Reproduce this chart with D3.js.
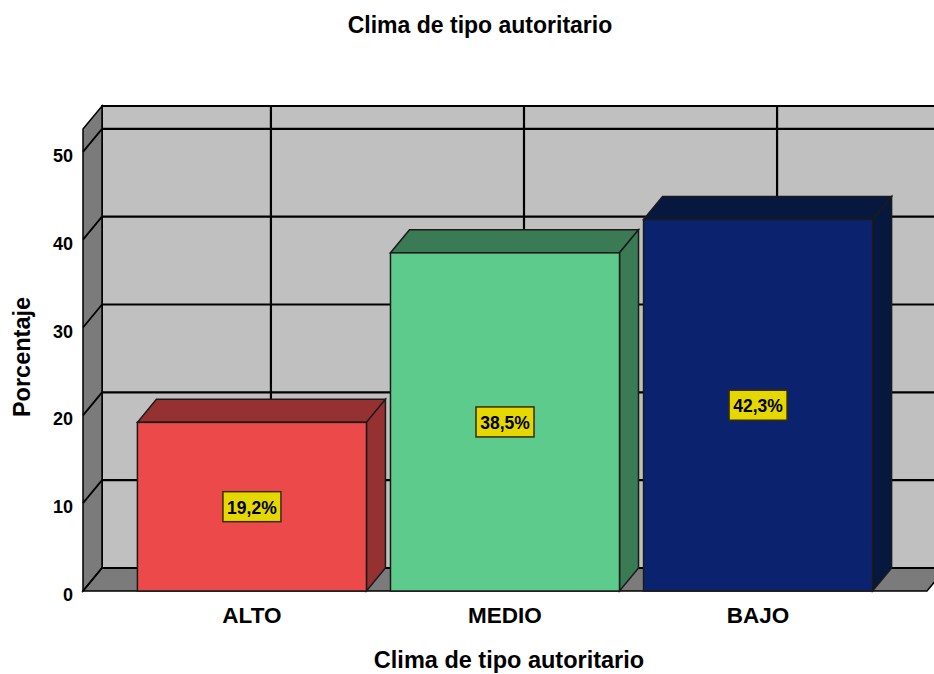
<!DOCTYPE html>
<html>
<head>
<meta charset="utf-8">
<script src="https://cdn.jsdelivr.net/npm/d3@7"></script>
<style>
  body { margin: 0; background: #fff; }
  text { font-family: "Liberation Sans", Arial, sans-serif; font-weight: bold; fill: #000; }
</style>
</head>
<body>
<div id="chart"></div>
<script>
// data
var categories = ["ALTO", "MEDIO", "BAJO"];
var values = [19.2, 38.5, 42.3];
var valueLabels = ["19,2%", "38,5%", "42,3%"];
var yTicks = [0, 10, 20, 30, 40, 50];
var frontColors = ["#ec4a4a", "#5ccb8b", "#0b236e"];
var sideColors = ["#953131", "#3a7a55", "#07183f"];

var width = 934, height = 674;
var dx = 19, dy = -23;   // depth of the 3d box

var svg = d3.select("#chart").append("svg")
  .attr("width", width)
  .attr("height", height);

var x = d3.scaleBand()
  .domain(categories)
  .range([83, 927])
  .paddingInner(0.095)
  .paddingOuter(0.215);

var y = d3.scaleLinear()
  .domain([0, 52.6])
  .range([591, 129]);

var x0 = 83, x1 = 927, yTop = y(52.6), yBase = y(0);

function pts(arr) { return arr.map(function(p) { return p.join(","); }).join(" "); }

// back wall
svg.append("rect")
  .attr("x", x0 + dx).attr("y", yTop + dy)
  .attr("width", x1 - x0).attr("height", yBase - yTop)
  .attr("fill", "#c0c0c0")
  .attr("stroke", "#000").attr("stroke-width", 2);

// left wall
svg.append("polygon")
  .attr("points", pts([[x0, yTop], [x0 + dx, yTop + dy], [x0 + dx, yBase + dy], [x0, yBase]]))
  .attr("fill", "#7b7b7b")
  .attr("stroke", "#000").attr("stroke-width", 1.5);

// floor
svg.append("polygon")
  .attr("points", pts([[x0, yBase], [x0 + dx, yBase + dy], [x1 + dx, yBase + dy], [x1, yBase]]))
  .attr("fill", "#7b7b7b")
  .attr("stroke", "#000").attr("stroke-width", 1.5);

// grid on back wall and left wall
var grid = svg.append("g").attr("stroke", "#000").attr("stroke-width", 2.2);
yTicks.forEach(function(t) {
  grid.append("line")
    .attr("x1", x0 + dx).attr("x2", x1 + dx)
    .attr("y1", y(t) + dy).attr("y2", y(t) + dy);
  grid.append("line")
    .attr("x1", x0).attr("x2", x0 + dx)
    .attr("y1", y(t)).attr("y2", y(t) + dy)
    .attr("stroke-width", 1.8);
});
categories.forEach(function(c) {
  var cx = x(c) + x.bandwidth() / 2 + dx;
  grid.append("line")
    .attr("x1", cx).attr("x2", cx)
    .attr("y1", yTop + dy).attr("y2", yBase + dy);
});

// bars
var bars = svg.selectAll(".bar")
  .data(values)
  .enter().append("g")
  .attr("class", "bar");

bars.each(function(v, i) {
  var g = d3.select(this);
  var bx = x(categories[i]), bw = x.bandwidth(), by = y(v);
  // top face
  g.append("polygon")
    .attr("points", pts([[bx, by], [bx + dx, by + dy], [bx + bw + dx, by + dy], [bx + bw, by]]))
    .attr("fill", sideColors[i])
    .attr("stroke", "#1a1a1a").attr("stroke-width", 1.5);
  // side face
  g.append("polygon")
    .attr("points", pts([[bx + bw, by], [bx + bw + dx, by + dy], [bx + bw + dx, yBase + dy], [bx + bw, yBase]]))
    .attr("fill", sideColors[i])
    .attr("stroke", "#1a1a1a").attr("stroke-width", 1.5);
  // front
  g.append("rect")
    .attr("x", bx).attr("y", by)
    .attr("width", bw).attr("height", yBase - by)
    .attr("fill", frontColors[i])
    .attr("stroke", "#1a1a1a").attr("stroke-width", 1.5);
});

// value labels
bars.each(function(v, i) {
  var g = d3.select(this);
  var cx = x(categories[i]) + x.bandwidth() / 2;
  var cy = (y(v) + yBase) / 2;
  g.append("rect")
    .attr("x", cx - 29).attr("y", cy - 15)
    .attr("width", 58).attr("height", 30)
    .attr("fill", "#e5d800")
    .attr("stroke", "#3a2a10").attr("stroke-width", 1.5);
  g.append("text")
    .attr("x", cx).attr("y", cy + 7)
    .attr("text-anchor", "middle")
    .style("font-size", "17.5px")
    .text(valueLabels[i]);
});

// y tick labels
svg.selectAll(".ytick")
  .data(yTicks)
  .enter().append("text")
  .attr("class", "ytick")
  .attr("x", 73)
  .attr("y", function(d) { return y(d) + 10; })
  .attr("text-anchor", "end")
  .style("font-size", "18px")
  .text(function(d) { return d; });

// x category labels
svg.selectAll(".xlab")
  .data(categories)
  .enter().append("text")
  .attr("class", "xlab")
  .attr("x", function(d) { return x(d) + x.bandwidth() / 2; })
  .attr("y", 623)
  .attr("text-anchor", "middle")
  .style("font-size", "22.5px")
  .text(function(d) { return d; });

// titles
svg.append("text")
  .attr("x", 480).attr("y", 33)
  .attr("text-anchor", "middle")
  .style("font-size", "23px")
  .text("Clima de tipo autoritario");

svg.append("text")
  .attr("x", 509).attr("y", 668)
  .attr("text-anchor", "middle")
  .style("font-size", "23.5px")
  .text("Clima de tipo autoritario");

svg.append("text")
  .attr("transform", "translate(30,357) rotate(-90)")
  .attr("text-anchor", "middle")
  .style("font-size", "23.5px")
  .text("Porcentaje");
</script>
</body>
</html>
